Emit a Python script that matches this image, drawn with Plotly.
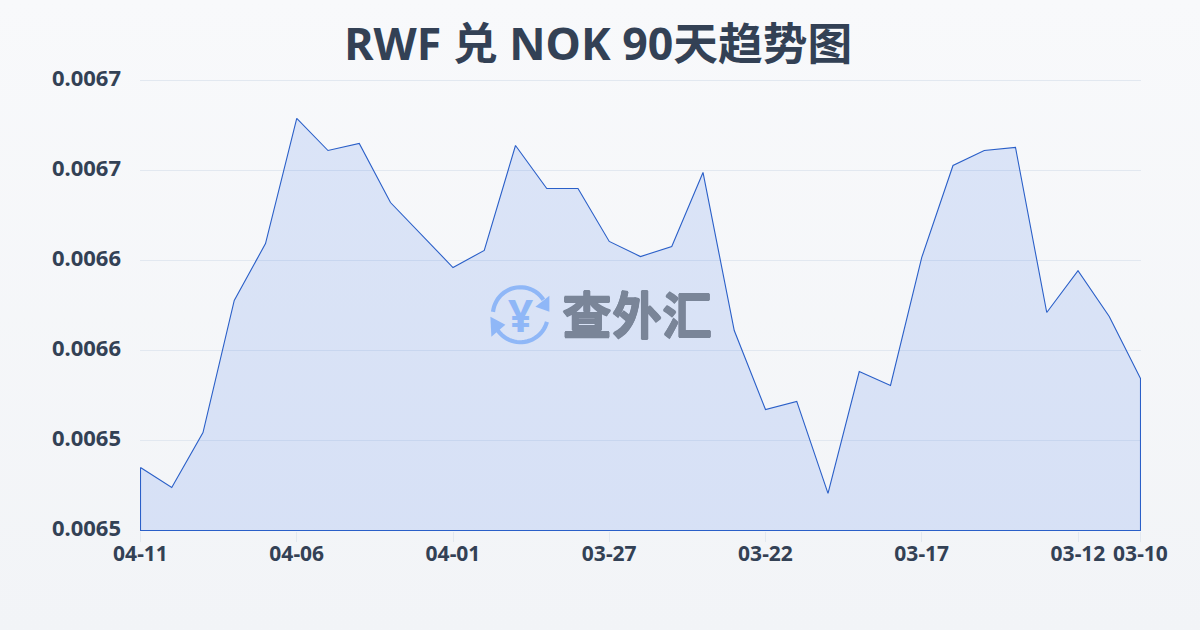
import math
import plotly.graph_objects as go

title = "RWF 兑 NOK 90天趋势图"
dates = ["04-11","04-10","04-09","04-08","04-07","04-06","04-05","04-04","04-03","04-02","04-01",
         "03-31","03-30","03-29","03-28","03-27","03-26","03-25","03-24","03-23","03-22",
         "03-21","03-20","03-19","03-18","03-17","03-16","03-15","03-14","03-13","03-12","03-11","03-10"]
rates = [0.006535,0.0065239,0.0065544,0.0066278,0.0066594,0.0067289,0.0067111,0.006715,0.0066822,0.0066639,0.0066461,
         0.0066556,0.0067139,0.00669,0.00669,0.0066606,0.0066522,0.0066578,0.0066989,0.0066111,0.0065672,
         0.0065717,0.0065206,0.0065883,0.0065806,0.0066517,0.0067028,0.0067111,0.0067128,0.0066211,0.0066444,0.0066189,0.0065844]
x_ticks = ["04-11","04-06","04-01","03-27","03-22","03-17","03-12","03-10"]
y_ticks = [0.0065,0.00655,0.0066,0.00665,0.0067,0.00675]
y_labels = ["0.0065","0.0065","0.0066","0.0066","0.0067","0.0067"]

INK = "#334155"
BLUE = "#2a5fc8"
FONT = "Noto Sans, Noto Sans CJK SC, sans-serif"
ICON = "#8fb7f7"
GRID = "#e2e8f0"
MARK = "#7a8598"
LOGO_X, LOGO_Y = 0.38, 0.4795

# half-pixel padding on both axes so the outline lands on whole device pixels
x_pad = 0.5 * (len(dates) - 1) / 1000
y_pad = 0.5 * (y_ticks[-1] - y_ticks[0]) / 450

fig = go.Figure(go.Scatter(
    x=dates + [dates[-1], dates[0], dates[0]],
    y=rates + [y_ticks[0], y_ticks[0], rates[0]],
    mode="lines", fill="toself", fillcolor="rgba(37,99,235,0.135)", cliponaxis=False,
    line=dict(color=BLUE, width=1.1), hoverinfo="skip", showlegend=False,
))

def icon_shape(path, fill=None, width=4.2):
    return dict(type="path", xref="paper", yref="paper", xsizemode="pixel", ysizemode="pixel",
                xanchor=LOGO_X, yanchor=LOGO_Y, path=path, layer="above",
                fillcolor=fill or "rgba(0,0,0,0)",
                line=dict(color=ICON, width=0 if fill else width))

def arc(start_deg, end_deg, r=27.5, n=24):
    pts = []
    for i in range(n + 1):
        a = math.radians(start_deg + (end_deg - start_deg) * i / n)
        pts.append(f"{r * math.cos(a):.2f} {r * math.sin(a):.2f}")
    return "M " + " L ".join(pts)

fig.update_layout(
    width=1200, height=630, margin=dict(l=140, r=59, t=80, b=99),
    paper_bgcolor="rgba(0,0,0,0)", plot_bgcolor="rgba(0,0,0,0)",
    font=dict(family=FONT, color=INK),
    title=dict(text=title, x=0.4985, xanchor="center", y=0.93, yanchor="middle",
               font=dict(size=44.7, color=INK, family=FONT, weight="bold")),
    xaxis=dict(type="category", categoryorder="array", categoryarray=dates,
               range=[-x_pad, len(dates) - 1 + x_pad],
               tickmode="array", tickvals=x_ticks, ticktext=x_ticks, showgrid=False, zeroline=False,
               ticks="outside", ticklen=10, tickwidth=1, tickcolor=GRID, showline=False,
               ticklabelstandoff=-6,
               tickfont=dict(size=21, color=INK, family=FONT, weight="bold")),
    yaxis=dict(range=[y_ticks[0] - y_pad, y_ticks[-1] + y_pad], tickmode="array", tickvals=y_ticks, ticktext=y_labels,
               showgrid=True, gridcolor=GRID, gridwidth=1, zeroline=False, showline=False, ticks="",
               ticklabelstandoff=18, ticklabelshift=-2,
               tickfont=dict(size=22, color=INK, family=FONT, weight="bold")),
    annotations=[
        dict(text="查外汇", xref="paper", yref="paper", x=0.42, y=LOGO_Y, xanchor="left", yanchor="middle",
             showarrow=False,
             font=dict(size=50, color=MARK, family=FONT, weight="bold",
                       shadow=f"0.6px 0 0 {MARK}, -0.6px 0 0 {MARK}, 0 0.6px 0 {MARK}, 0 -0.6px 0 {MARK}")),
        dict(text="¥", xref="paper", yref="paper", x=LOGO_X, y=LOGO_Y, xanchor="center", yanchor="middle",
             showarrow=False, font=dict(size=44, color=ICON, family=FONT, weight="bold")),
    ],
    shapes=[
        dict(type="line", xref="paper", x0=0, x1=1, yref="y", y0=y_ticks[-1], y1=y_ticks[-1],
             layer="below", line=dict(color=GRID, width=1)),
        icon_shape(arc(174, 33)),
        icon_shape(arc(-15, -147)),
        icon_shape("M 29 19 L 29 3 L 15 8 Z", fill=ICON),
        icon_shape("M -30 -2 L -29 -22 L -15 -10 Z", fill=ICON),
    ],
)

fig.write_html("out.html", config=dict(displayModeBar=False), post_script=
    "document.body.style.margin='0';"
    "document.body.style.background='linear-gradient(180deg,#f8f9fb 0%,#f2f4f7 100%)';"
    "document.documentElement.style.height='100%';document.body.style.minHeight='630px';")
